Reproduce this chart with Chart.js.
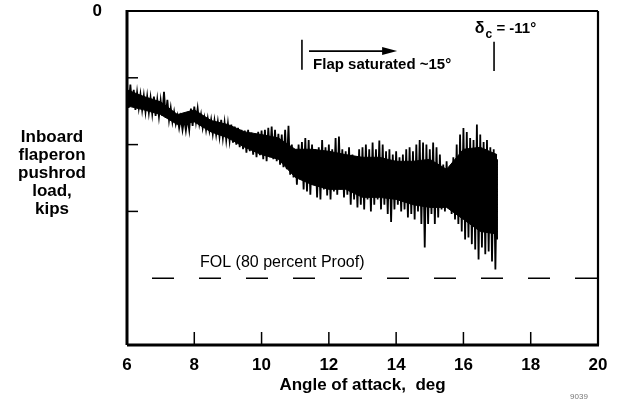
<!DOCTYPE html>
<html>
<head>
<meta charset="utf-8">
<script src="https://cdn.jsdelivr.net/npm/chart.js@4.4.0/dist/chart.umd.min.js"></script>
<style>
html,body{margin:0;padding:0;background:#fff;}
#wrap{position:relative;width:622px;height:402px;}
</style>
</head>
<body>
<div id="wrap"><canvas id="c" width="622" height="402"></canvas></div>
<script>
// Angle of attack samples, deg
const angleDeg = [
6.00,6.05,6.10,6.15,6.20,6.25,6.30,6.35,6.40,6.45,6.50,6.55,6.60,6.65,6.70,6.75,6.80,6.85,6.90,6.95,
7.00,7.05,7.10,7.15,7.20,7.25,7.30,7.35,7.40,7.45,7.50,7.55,7.60,7.65,7.70,7.75,7.80,7.85,7.90,7.95,
8.00,8.05,8.10,8.15,8.20,8.25,8.30,8.35,8.40,8.45,8.50,8.55,8.60,8.65,8.70,8.75,8.80,8.85,8.90,8.95,
9.00,9.05,9.10,9.15,9.20,9.25,9.30,9.35,9.40,9.45,9.50,9.55,9.60,9.65,9.70,9.75,9.80,9.85,9.90,9.95,
10.00,10.05,10.10,10.15,10.20,10.25,10.30,10.35,10.40,10.45,10.50,10.55,10.60,10.65,10.70,10.75,10.80,10.85,10.90,10.95,
11.00,11.05,11.10,11.15,11.20,11.25,11.30,11.35,11.40,11.45,11.50,11.55,11.60,11.65,11.70,11.75,11.80,11.85,11.90,11.95,
12.00,12.05,12.10,12.15,12.20,12.25,12.30,12.35,12.40,12.45,12.50,12.55,12.60,12.65,12.70,12.75,12.80,12.85,12.90,12.95,
13.00,13.05,13.10,13.15,13.20,13.25,13.30,13.35,13.40,13.45,13.50,13.55,13.60,13.65,13.70,13.75,13.80,13.85,13.90,13.95,
14.00,14.05,14.10,14.15,14.20,14.25,14.30,14.35,14.40,14.45,14.50,14.55,14.60,14.65,14.70,14.75,14.80,14.85,14.90,14.95,
15.00,15.05,15.10,15.15,15.20,15.25,15.30,15.35,15.40,15.45,15.50,15.55,15.60,15.65,15.70,15.75,15.80,15.85,15.90,15.95,
16.00,16.05,16.10,16.15,16.20,16.25,16.30,16.35,16.40,16.45,16.50,16.55,16.60,16.65,16.70,16.75,16.80,16.85,16.90,16.95,
17.00,17.00
];
// Inboard flaperon pushrod load, oscillation peaks (tick units, 0 at top, downward negative)
const pushrodLoad = [
-1.15,-1.45,-1.10,-1.42,-1.18,-1.48,-1.22,-1.45,-1.25,-1.48,-1.27,-1.51,-1.28,-1.52,-1.30,-1.54,-1.28,-1.57,-1.33,-1.58,
-1.34,-1.57,-1.21,-1.60,-1.33,-1.63,-1.45,-1.66,-1.51,-1.69,-1.57,-1.75,-1.60,-1.78,-1.61,-1.79,-1.60,-1.78,-1.46,-1.72,
-1.43,-1.66,-1.46,-1.69,-1.55,-1.75,-1.60,-1.78,-1.61,-1.79,-1.63,-1.84,-1.64,-1.85,-1.66,-1.88,-1.63,-1.90,-1.67,-1.93,
-1.69,-1.94,-1.70,-1.97,-1.73,-2.00,-1.75,-2.04,-1.78,-2.07,-1.79,-2.12,-1.78,-2.10,-1.82,-2.15,-1.84,-2.19,-1.81,-2.16,
-1.79,-2.22,-1.78,-2.25,-1.75,-2.19,-1.73,-2.22,-1.78,-2.25,-1.84,-2.30,-1.85,-2.34,-1.78,-2.37,-1.72,-2.45,-2.00,-2.49,
-2.07,-2.60,-2.00,-2.52,-1.96,-2.67,-1.90,-2.70,-1.93,-2.75,-2.00,-2.60,-2.07,-2.79,-2.04,-2.82,-1.93,-2.67,-2.04,-2.76,
-2.00,-2.82,-2.07,-2.70,-1.90,-2.75,-1.88,-2.67,-2.07,-2.79,-2.10,-2.75,-2.04,-2.90,-2.15,-2.82,-2.18,-2.94,-2.07,-2.90,
-2.04,-2.97,-2.00,-2.82,-2.07,-3.00,-1.97,-2.90,-2.07,-2.82,-1.94,-2.97,-2.00,-2.90,-2.10,-3.04,-2.07,-3.16,-2.15,-2.97,
-2.10,-2.90,-2.19,-3.00,-2.15,-2.97,-2.07,-3.09,-2.04,-3.04,-2.10,-3.12,-2.00,-3.00,-1.93,-3.19,-1.97,-3.54,-2.00,-3.19,
-2.07,-3.04,-1.97,-3.19,-2.04,-3.09,-2.15,-2.97,-2.30,-3.00,-2.25,-2.94,-2.37,-3.04,-2.19,-3.12,-2.00,-3.19,-1.85,-3.30,
-1.75,-3.42,-1.81,-3.39,-1.90,-3.49,-1.93,-3.57,-1.70,-3.72,-1.85,-3.54,-1.96,-3.64,-1.93,-3.60,-2.04,-3.75,-2.07,-3.87,
-2.22,-3.42
];
// Dense core of the trace (upper and lower edge of the solid band)
const coreAngle  = [6.0, 6.5, 7.0, 7.5, 8.0, 8.5, 9.0, 9.5, 10.0, 10.5, 11.0, 11.5, 12.0, 12.5, 13.0, 13.5, 14.0, 14.5, 15.0, 15.5, 16.0, 16.5, 17.0];
const coreUpper  = [-1.18, -1.28, -1.36, -1.55, -1.48, -1.64, -1.70, -1.81, -1.85, -1.90, -2.07, -2.07, -2.10, -2.15, -2.19, -2.19, -2.25, -2.25, -2.22, -2.37, -2.07, -2.04, -2.15];
const coreLower  = [-1.42, -1.48, -1.55, -1.70, -1.66, -1.81, -1.90, -2.04, -2.15, -2.22, -2.49, -2.60, -2.67, -2.67, -2.79, -2.79, -2.82, -2.90, -2.94, -2.94, -3.12, -3.30, -3.34];
// FOL (80 percent proof) level
const folAngle = [6, 20];
const folLoad = [-4, -4];
// Axis ticks
const xTicks = [6, 8, 10, 12, 14, 16, 18, 20];
const yTicks = [0, -1, -2, -3, -4, -5];
const yTitleLines = ["Inboard", "flaperon", "pushrod", "load,", "kips"];

const FONT = "'Liberation Sans', Arial, Helvetica, sans-serif";

const traceData = angleDeg.map((a, i) => ({x: a, y: pushrodLoad[i]}));
const coreUpperData = coreAngle.map((a, i) => ({x: a, y: coreUpper[i]}));
const coreLowerData = coreAngle.map((a, i) => ({x: a, y: coreLower[i]}));
const folData = folAngle.map((a, i) => ({x: a, y: folLoad[i]}));

const decor = {
  id: 'decor',
  afterDatasetsDraw(chart) {
    const ctx = chart.ctx;
    const xs = chart.scales.x, ys = chart.scales.y;
    const ca = chart.chartArea;
    ctx.save();
    ctx.strokeStyle = '#000';
    ctx.fillStyle = '#000';
    // inward tick marks
    ctx.lineWidth = 1.5;
    xTicks.forEach(v => {
      if (v === 6 || v === 20) return;
      const px = xs.getPixelForValue(v);
      ctx.beginPath(); ctx.moveTo(px, ca.bottom); ctx.lineTo(px, ca.bottom - 13); ctx.stroke();
    });
    yTicks.forEach(v => {
      if (v === 0 || v === -5 || v === -4) return;
      const py = ys.getPixelForValue(v);
      ctx.beginPath(); ctx.moveTo(ca.left, py); ctx.lineTo(ca.left + 11, py); ctx.stroke();
    });
    // frame
    ctx.lineWidth = 2.2;
    ctx.beginPath(); ctx.moveTo(ca.left, ca.top); ctx.lineTo(ca.right, ca.top); ctx.stroke();
    ctx.beginPath(); ctx.moveTo(ca.right, ca.top); ctx.lineTo(ca.right, ca.bottom); ctx.stroke();
    ctx.lineWidth = 3;
    ctx.beginPath(); ctx.moveTo(ca.left, ca.top - 1); ctx.lineTo(ca.left, ca.bottom); ctx.stroke();
    ctx.beginPath(); ctx.moveTo(ca.left, ca.bottom); ctx.lineTo(ca.right + 1, ca.bottom); ctx.stroke();

    // Flap saturated annotation
    ctx.lineWidth = 1.6;
    const bx = xs.getPixelForValue(11.2);
    ctx.beginPath(); ctx.moveTo(bx, ys.getPixelForValue(-0.43)); ctx.lineTo(bx, ys.getPixelForValue(-0.88)); ctx.stroke();
    const ax0 = xs.getPixelForValue(11.41), ax1 = xs.getPixelForValue(14.03), ay = ys.getPixelForValue(-0.60);
    ctx.beginPath(); ctx.moveTo(ax0, ay); ctx.lineTo(ax1 - 12, ay); ctx.stroke();
    ctx.beginPath(); ctx.moveTo(ax1, ay); ctx.lineTo(ax1 - 15, ay - 4); ctx.lineTo(ax1 - 15, ay + 4); ctx.closePath(); ctx.fill();
    ctx.font = 'bold 15px ' + FONT;
    ctx.textAlign = 'left'; ctx.textBaseline = 'middle';
    ctx.fillText('Flap saturated ~15°', xs.getPixelForValue(11.53), ys.getPixelForValue(-0.80));

    // delta_c annotation
    const dx = xs.getPixelForValue(16.91);
    ctx.beginPath(); ctx.moveTo(dx, ys.getPixelForValue(-0.46)); ctx.lineTo(dx, ys.getPixelForValue(-0.90)); ctx.stroke();
    const tx = xs.getPixelForValue(16.34), ty = ys.getPixelForValue(-0.27);
    ctx.font = 'bold 16px ' + FONT;
    ctx.fillText('δ', tx, ty);
    const w1 = ctx.measureText('δ').width;
    ctx.font = 'bold 12px ' + FONT;
    ctx.fillText('c', tx + w1 + 1, ty + 6);
    const w2 = ctx.measureText('c').width;
    ctx.font = 'bold 15px ' + FONT;
    ctx.fillText(' = -11°', tx + w1 + w2 + 1, ty);

    // FOL label
    ctx.font = '16px ' + FONT;
    ctx.fillText('FOL (80 percent Proof)', xs.getPixelForValue(8.17), ys.getPixelForValue(-3.76));

    // y-axis title (horizontal, stacked)
    ctx.font = 'bold 17px ' + FONT;
    ctx.textAlign = 'center';
    yTitleLines.forEach((t, i) => ctx.fillText(t, 52, 137 + i * 18));

    // figure id
    ctx.font = '8px ' + FONT;
    ctx.fillStyle = '#777';
    ctx.fillText('9039', 579, 397);
    ctx.restore();
  }
};

new Chart(document.getElementById('c'), {
  type: 'line',
  data: {
    datasets: [
      {
        data: coreUpperData,
        borderColor: '#000',
        borderWidth: 1,
        backgroundColor: '#000',
        pointRadius: 0,
        tension: 0,
        fill: '+1'
      },
      {
        data: coreLowerData,
        borderColor: '#000',
        borderWidth: 1,
        backgroundColor: '#000',
        pointRadius: 0,
        tension: 0,
        fill: false
      },
      {
        data: traceData,
        borderColor: '#000',
        borderWidth: 1.8,
        pointRadius: 0,
        tension: 0,
        fill: false
      },
      {
        data: folData,
        borderColor: '#000',
        borderWidth: 1.5,
        borderDash: [22, 25],
        borderDashOffset: 22,
        pointRadius: 0,
        fill: false
      }
    ]
  },
  options: {
    responsive: false,
    animation: false,
    devicePixelRatio: 1,
    layout: {padding: {top: 11, right: 24, left: 0, bottom: 0}},
    plugins: {legend: {display: false}, tooltip: {enabled: false}, filler: {propagate: false}},
    scales: {
      x: {
        type: 'linear', min: 6, max: 20,
        afterBuildTicks(scale) { scale.ticks = xTicks.map(v => ({value: v})); },
        afterFit(scale) { scale.height = 57; scale.paddingLeft = 0; scale.paddingRight = 0; },
        grid: {display: false, drawTicks: false},
        border: {display: false},
        ticks: {color: '#000', padding: 10, font: {family: FONT, size: 17, weight: 'bold'}, maxRotation: 0},
        title: {display: true, text: 'Angle of attack,  deg', color: '#000', font: {family: FONT, size: 17, weight: 'bold'}, padding: {top: 0, bottom: 6}}
      },
      y: {
        type: 'linear', min: -5, max: 0,
        afterBuildTicks(scale) { scale.ticks = yTicks.map(v => ({value: v})); },
        afterFit(scale) { scale.width = 127; scale.paddingTop = 0; scale.paddingBottom = 0; },
        grid: {display: false, drawTicks: false},
        border: {display: false},
        ticks: {color: '#000', padding: 25, font: {family: FONT, size: 17, weight: 'bold'}, callback: v => (v === 0 ? '0' : '')}
      }
    }
  },
  plugins: [decor]
});
</script>
</body>
</html>
